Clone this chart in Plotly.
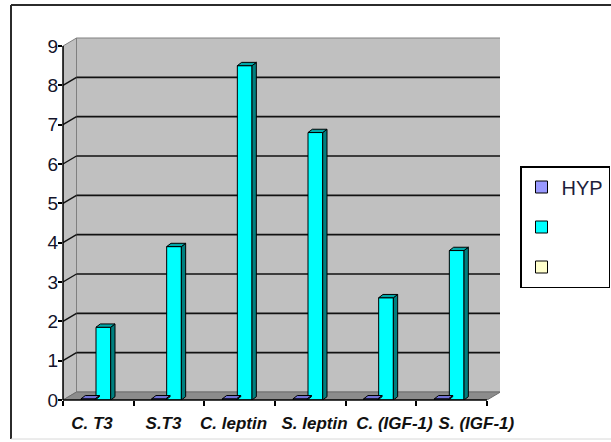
import plotly.graph_objects as go

# ---- data -------------------------------------------------------------
categories = ["C. T3", "S.T3", "C. leptin", "S. leptin", "C. (IGF-1)", "S. (IGF-1)"]
hyp_values = [0.03, 0.03, 0.03, 0.03, 0.03, 0.03]
second_values = [1.85, 3.9, 8.5, 6.8, 2.6, 3.8]
third_values = [None, None, None, None, None, None]
series_names = ["HYP", "", ""]
y_ticks = [0, 1, 2, 3, 4, 5, 6, 7, 8, 9]

# ---- layout geometry ----------------------------------------------------
W, H = 611, 442
M = dict(l=63, r=111, t=30, b=42)
X_RANGE = [-0.5, 5.684]
Y_RANGE = [0, 9.407]
PLOT_W = W - M["l"] - M["r"]
PLOT_H = H - M["t"] - M["b"]
X_SCALE = PLOT_W / (X_RANGE[1] - X_RANGE[0])   # px per category unit
Y_SCALE = PLOT_H / (Y_RANGE[1] - Y_RANGE[0])   # px per value unit


def ux(px):
    return px / X_SCALE


def uy(px):
    return px / Y_SCALE


def paper_x(px):
    return (px - M["l"]) / PLOT_W


def paper_y(py):
    return (H - M["b"] - py) / PLOT_H


# depth of the walls and of the columns (pixels -> data units)
WDX, WDY = ux(13.5), uy(8)
BDX, BDY = ux(4.3), uy(3.3)

# column placement inside each category
bar_offsets = [-0.245, -0.033, 0.18]
bar_widths = [0.2, 0.208, 0.2]
front_colors = ["#9999FF", "#00FFFF", "#FFFFCC"]
top_colors = ["#7373D9", "#00A8A8", "#D9D9A8"]
side_colors = ["#5C5CB0", "#007F7F", "#B0B080"]

# label centres relative to each category index
label_shift = [-0.09, -0.078, -0.087, 0.059, 0.19, 0.35]

x_idx = list(range(len(categories)))
n_cat = len(categories)
y_top = y_ticks[-1]


def poly(points):
    return "M " + " L ".join(f"{x},{y}" for x, y in points) + " Z"


shapes = []

# side wall
shapes.append(dict(type="path", xref="x", yref="y", layer="below",
                   path=poly([(-0.5, 0), (-0.5, y_top), (-0.5 + WDX, y_top + WDY), (-0.5 + WDX, WDY)]),
                   fillcolor="#C0C0C0", line=dict(color="#808080", width=1)))
# back wall
shapes.append(dict(type="rect", xref="x", yref="y", layer="below",
                   x0=-0.5 + WDX, x1=n_cat - 0.5 + WDX, y0=WDY, y1=y_top + WDY,
                   fillcolor="#C0C0C0", line=dict(color="#808080", width=1)))
# floor
shapes.append(dict(type="path", xref="x", yref="y", layer="below",
                   path=poly([(-0.5, 0), (n_cat - 0.5, 0), (n_cat - 0.5 + WDX, WDY), (-0.5 + WDX, WDY)]),
                   fillcolor="#8C8C8C", line=dict(color="#6E6E6E", width=1)))

# gridlines on the back wall and the side wall
for v in y_ticks[1:-1]:
    shapes.append(dict(type="line", xref="x", yref="y", layer="below",
                       x0=-0.5 + WDX, x1=n_cat - 0.5 + WDX, y0=v + WDY, y1=v + WDY,
                       line=dict(color="#111111", width=1.6)))
    shapes.append(dict(type="line", xref="x", yref="y", layer="below",
                       x0=-0.5, x1=-0.5 + WDX, y0=v, y1=v + WDY,
                       line=dict(color="#111111", width=1.4)))

# front axis lines
shapes.append(dict(type="line", xref="paper", yref="y", layer="above",
                   x0=0, x1=0, y0=0, y1=y_top, line=dict(color="#000000", width=1.5)))
shapes.append(dict(type="line", xref="x", yref="paper", layer="above",
                   x0=-0.5, x1=n_cat - 0.5, y0=0, y1=0, line=dict(color="#000000", width=1.5)))

# 3-D faces of the columns (top and right side), from the same values
all_values = [hyp_values, second_values, third_values]
for s, vals in enumerate(all_values):
    for i, v in zip(x_idx, vals):
        if v is None:
            continue
        x0 = i + bar_offsets[s]
        x1 = x0 + bar_widths[s]
        shapes.append(dict(type="path", xref="x", yref="y", layer="above",
                           path=poly([(x1, 0), (x1, v), (x1 + BDX, v + BDY), (x1 + BDX, BDY)]),
                           fillcolor=side_colors[s], line=dict(color="#000000", width=1)))
        shapes.append(dict(type="path", xref="x", yref="y", layer="above",
                           path=poly([(x0, v), (x1, v), (x1 + BDX, v + BDY), (x0 + BDX, v + BDY)]),
                           fillcolor=top_colors[s], line=dict(color="#000000", width=1)))

# chart frame
shapes.append(dict(type="line", xref="paper", yref="paper", layer="above",
                   x0=paper_x(11), x1=paper_x(620), y0=paper_y(5), y1=paper_y(5),
                   line=dict(color="#2b2b2b", width=2)))
shapes.append(dict(type="line", xref="paper", yref="paper", layer="above",
                   x0=paper_x(11), x1=paper_x(11), y0=paper_y(5), y1=paper_y(439),
                   line=dict(color="#2b2b2b", width=2)))
shapes.append(dict(type="line", xref="paper", yref="paper", layer="above",
                   x0=paper_x(11), x1=paper_x(620), y0=paper_y(439), y1=paper_y(439),
                   line=dict(color="#d8d8d8", width=1)))

fig = go.Figure()
for s, vals in enumerate(all_values):
    fig.add_trace(go.Bar(
        x=x_idx, y=vals, name=series_names[s],
        offset=bar_offsets[s], width=bar_widths[s],
        marker=dict(color=front_colors[s], line=dict(color="#000000", width=1)),
        legendgroup=f"g{s}", hoverinfo="skip",
    ))

fig.update_layout(
    width=W, height=H,
    margin=dict(l=M["l"], r=M["r"], t=M["t"], b=M["b"], autoexpand=False),
    paper_bgcolor="white", plot_bgcolor="white",
    barmode="overlay",
    shapes=shapes,
    showlegend=True,
    legend=dict(
        xref="container", yref="container",
        x=520 / W, y=1 - 166 / H, xanchor="left", yanchor="top",
        bordercolor="#000000", borderwidth=1.5, bgcolor="white",
        font=dict(family="Liberation Sans", size=20, color="#1e1e3c"),
        tracegroupgap=11, itemwidth=30, traceorder="grouped",
    ),
    xaxis=dict(
        range=X_RANGE, tickmode="array",
        tickvals=[i + d for i, d in zip(x_idx, label_shift)],
        ticktext=categories, ticks="", tickangle=0,
        showgrid=False, zeroline=False, showline=False,
        ticklabelstandoff=11,
        tickfont=dict(family="Liberation Sans", size=17, color="#111111",
                      weight="bold", style="italic"),
        minor=dict(ticks="outside", ticklen=5, tickwidth=1.5, tickcolor="#000000",
                   tickmode="linear", tick0=-0.5, dtick=1, showgrid=False),
    ),
    yaxis=dict(
        range=Y_RANGE, tickmode="array", tickvals=y_ticks,
        ticks="outside", ticklen=4, tickwidth=1.5, tickcolor="#000000",
        showgrid=False, zeroline=False, showline=False,
        ticklabelstandoff=-4,
        tickfont=dict(family="Liberation Sans", size=19, color="#14142b"),
    ),
)

fig.write_html("out.html")
